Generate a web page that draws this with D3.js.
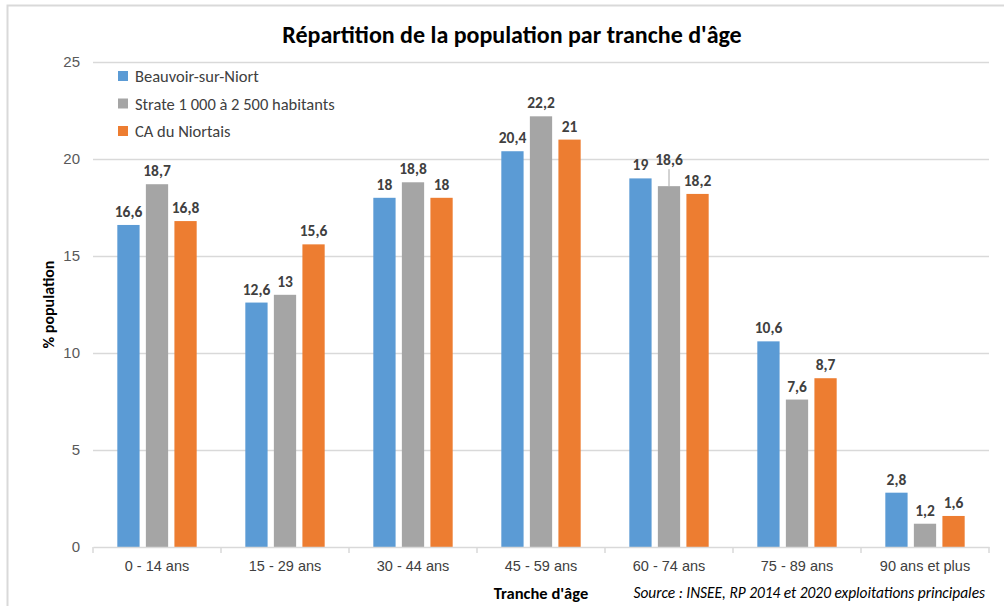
<!DOCTYPE html>
<html>
<head>
<meta charset="utf-8">
<script src="https://cdn.jsdelivr.net/npm/d3@7"></script>
<style>
  body { margin: 0; background: #fff; }
  svg { font-family: Carlito, Calibri, Lato, "Liberation Sans", sans-serif; }
</style>
</head>
<body>
<div id="chart"></div>
<script>
var categories = ["0 - 14 ans", "15 - 29 ans", "30 - 44 ans", "45 - 59 ans", "60 - 74 ans", "75 - 89 ans", "90 ans et plus"];
var seriesNames = ["Beauvoir-sur-Niort", "Strate 1 000 à 2 500 habitants", "CA du Niortais"];
var beauvoir = [16.6, 12.6, 18, 20.4, 19, 10.6, 2.8];
var strate = [18.7, 13, 18.8, 22.2, 18.6, 7.6, 1.2];
var caNiortais = [16.8, 15.6, 18, 21, 18.2, 8.7, 1.6];
var yTicks = [0, 5, 10, 15, 20, 25];
var colors = ["#5b9bd5", "#a5a5a5", "#ed7d31"];

var width = 1004, height = 606;
var margin = { top: 62, right: 15, bottom: 59, left: 93 };
var w = width - margin.left - margin.right;
var h = height - margin.top - margin.bottom;

var values = [beauvoir, strate, caNiortais];
var rows = categories.map(function (c, i) {
    return { cat: c, vals: values.map(function (s, j) { return { key: j, v: s[i] }; }) };
});

var svg = d3.select("#chart")
    .append("svg")
    .attr("width", width)
    .attr("height", height);

// chart frame
svg.append("rect")
    .attr("x", 7.5)
    .attr("y", 5.5)
    .attr("width", 1010)
    .attr("height", 620)
    .attr("fill", "none")
    .attr("stroke", "#d9d9d9")
    .attr("stroke-width", 2);

var g = svg.append("g")
    .attr("transform", "translate(" + margin.left + "," + margin.top + ")");

var x0 = d3.scaleBand()
    .domain(categories)
    .range([0, w])
    .paddingInner(0.38)
    .paddingOuter(0.19);

var x1 = d3.scaleBand()
    .domain([0, 1, 2])
    .range([0, x0.bandwidth()])
    .paddingInner(0.22);

var y = d3.scaleLinear()
    .domain([0, 25])
    .range([h, 0]);

// gridlines
g.selectAll(".grid")
    .data(yTicks.slice(1))
    .enter()
    .append("line")
    .attr("x1", 0)
    .attr("x2", w)
    .attr("y1", function (d) { return Math.round(y(d)) + 0.5; })
    .attr("y2", function (d) { return Math.round(y(d)) + 0.5; })
    .attr("stroke", "#d9d9d9")
    .attr("stroke-width", 1.5);

// y axis
var yAxis = d3.axisLeft(y)
    .tickValues(yTicks)
    .tickSize(0)
    .tickPadding(13)
    .tickFormat(d3.format("d"));
g.append("g")
    .call(yAxis)
    .call(function (s) { s.select(".domain").remove(); })
    .selectAll("text")
    .attr("fill", "#595959")
    .style("font-size", "15px");

// bars
var groups = g.selectAll(".grp")
    .data(rows)
    .enter()
    .append("g")
    .attr("transform", function (d) { return "translate(" + x0(d.cat) + ",0)"; });

groups.selectAll("rect")
    .data(function (d) { return d.vals; })
    .enter()
    .append("rect")
    .attr("x", function (d) { return x1(d.key); })
    .attr("y", function (d) { return y(d.v); })
    .attr("width", x1.bandwidth())
    .attr("height", function (d) { return h - y(d.v); })
    .attr("fill", function (d) { return colors[d.key]; });

// value labels (the 18,6 label sits higher with a leader line, as in the original)
groups.each(function (row, i) {
    var grp = d3.select(this);
    row.vals.forEach(function (d) {
        var cx = x1(d.key) + x1.bandwidth() / 2;
        var ty = y(d.v) - 8;
        if (i === 4 && d.key === 1) {
            ty = y(d.v) - 21;
            grp.append("line")
                .attr("x1", cx).attr("x2", cx)
                .attr("y1", ty + 4).attr("y2", y(d.v))
                .attr("stroke", "#a6a6a6")
                .attr("stroke-width", 1);
        }
        grp.append("text")
            .attr("x", cx)
            .attr("y", ty)
            .attr("text-anchor", "middle")
            .attr("fill", "#404040")
            .style("font-size", "15.5px")
            .style("font-weight", "bold")
            .text(String(d.v).replace(".", ","));
    });
});

// x axis
var xAxis = d3.axisBottom(x0).tickSize(0).tickPadding(14);
var xg = g.append("g")
    .attr("transform", "translate(0," + h + ")")
    .call(xAxis);
xg.select(".domain").attr("stroke", "#d9d9d9").attr("stroke-width", 1.5);
xg.selectAll("text")
    .attr("fill", "#404040")
    .style("font-size", "14.5px");
var edges = categories.map(function (c) { return x0(c) - x0.step() * x0.paddingInner() / 2; }).concat([w]);
xg.selectAll(".sep")
    .data(edges)
    .enter()
    .append("line")
    .attr("x1", function (d) { return d; })
    .attr("x2", function (d) { return d; })
    .attr("y1", 0)
    .attr("y2", 6)
    .attr("stroke", "#d9d9d9")
    .attr("stroke-width", 1.5);

// title
svg.append("text")
    .attr("x", 512)
    .attr("y", 43)
    .attr("text-anchor", "middle")
    .attr("fill", "#000")
    .style("font-size", "24px")
    .style("font-weight", "bold")
    .text("Répartition de la population par tranche d'âge");

// axis titles
svg.append("text")
    .attr("transform", "translate(54," + (margin.top + h / 2) + ") rotate(-90)")
    .attr("text-anchor", "middle")
    .attr("fill", "#000")
    .style("font-size", "16px")
    .style("font-weight", "bold")
    .text("% population");

svg.append("text")
    .attr("x", 541)
    .attr("y", 599)
    .attr("text-anchor", "middle")
    .attr("fill", "#000")
    .style("font-size", "16.5px")
    .style("font-weight", "bold")
    .text("Tranche d'âge");

svg.append("text")
    .attr("x", 985)
    .attr("y", 598)
    .attr("text-anchor", "end")
    .attr("fill", "#000")
    .style("font-size", "15.4px")
    .style("font-style", "italic")
    .text("Source : INSEE, RP 2014 et 2020 exploitations principales");

// legend
var legend = svg.append("g")
    .attr("transform", "translate(118,71)");
var li = legend.selectAll("g")
    .data(seriesNames)
    .enter()
    .append("g")
    .attr("transform", function (d, i) { return "translate(0," + i * 27.5 + ")"; });
li.append("rect")
    .attr("width", 10)
    .attr("height", 10)
    .attr("fill", function (d, i) { return colors[i]; });
li.append("text")
    .attr("x", 17)
    .attr("y", 11)
    .attr("fill", "#404040")
    .style("font-size", "16.5px")
    .text(function (d) { return d; });
</script>
</body>
</html>
